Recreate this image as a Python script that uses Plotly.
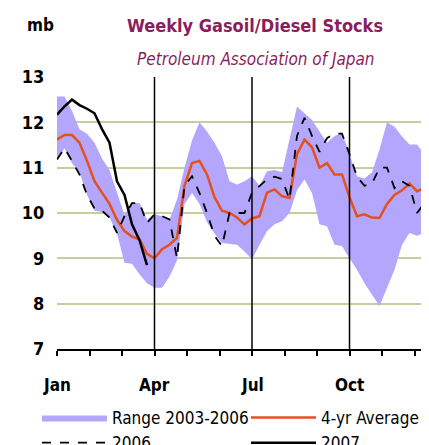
import plotly.graph_objects as go
import numpy as np

# weekly data, week index 0 = first week of January
weeks = list(range(51))
weeks_2007 = list(range(13))

range_high = [12.57, 12.57, 12.25, 11.85, 11.75, 11.55, 11.2, 10.95, 10.45, 9.95,
              10.22, 10.22, 9.85, 9.97, 9.93, 9.85, 10.3, 11.0, 11.6, 12.0,
              11.8, 11.55, 11.25, 10.7, 10.63, 10.7, 10.81, 10.6, 10.92, 10.95,
              10.9, 11.6, 12.35, 12.2, 12.05, 11.8, 11.55, 11.7, 11.77, 11.3,
              10.81, 10.76, 10.9, 11.4, 12.0, 11.9, 11.69, 11.51, 11.51, 11.3, 11.2]
range_low = [11.18, 11.43, 11.1, 10.9, 10.4, 10.05, 10.02, 9.9, 9.55, 8.9,
             8.88, 8.65, 8.45, 8.35, 8.35, 8.6, 8.95, 10.2, 10.44, 10.2,
             9.8, 9.55, 9.34, 9.32, 9.3, 9.15, 8.98, 9.3, 9.6, 9.75,
             9.82, 10.0, 10.5, 10.74, 10.44, 9.75, 9.71, 9.3, 9.27, 9.0,
             8.75, 8.45, 8.2, 7.95, 8.35, 8.75, 9.3, 9.56, 9.5, 9.56, 9.6]
avg_4yr = [11.62, 11.72, 11.72, 11.55, 11.15, 10.7, 10.45, 10.2, 9.85, 9.6,
           9.48, 9.42, 9.1, 9.0, 9.2, 9.3, 9.45, 10.6, 11.1, 11.15,
           10.85, 10.35, 10.05, 10.0, 9.9, 9.75, 9.88, 9.93, 10.45, 10.52,
           10.37, 10.33, 11.3, 11.62, 11.45, 11.0, 11.1, 10.85, 10.85, 10.35,
           9.93, 9.97, 9.9, 9.89, 10.2, 10.4, 10.5, 10.65, 10.48, 10.55, 10.4]
stocks_2006 = [11.18, 11.43, 11.15, 10.85, 10.4, 10.1, 10.05, 9.9, 9.56, 9.93,
               10.22, 10.22, 9.78, 9.97, 9.93, 9.86, 9.0, 10.6, 10.81, 10.44,
               10.0, 9.5, 9.27, 10.0, 10.0, 10.0, 10.45, 10.6, 10.74, 10.8,
               10.75, 10.3, 11.7, 12.1, 11.7, 11.35, 11.65, 11.75, 11.75, 11.3,
               10.8, 10.6, 10.65, 11.0, 11.0, 10.55, 10.7, 10.6, 10.0, 10.22, 10.0]
stocks_2007 = [12.17, 12.35, 12.5, 12.38, 12.3, 12.2, 11.85, 11.55, 10.7, 10.4,
               9.75, 9.4, 8.85]

month_labels = ['Jan', 'Apr', 'Jul', 'Oct']
y_ticks = [7, 8, 9, 10, 11, 12, 13]

WK_PER_MONTH = 52 / 12
month_pos = [i * WK_PER_MONTH for i in range(12)]
quarter_pos = [i * 3 * WK_PER_MONTH for i in range(4)]

FONT = "DejaVu Sans Condensed, Liberation Sans Narrow, Arial Narrow, Liberation Sans"
TITLE_COL = "#8c1d5c"

# page has an 8px body margin, so figure pixels = screen pixels - 8
OFF = 8
L, T, R, B = 49, 69, 8, 104
PW, PH = 429 - L - R, 445 - T - B


def px_x(sx):
    return (sx - OFF - L) / PW


def px_y(sy):
    return (445 - B - (sy - OFF)) / PH


fig = go.Figure()

# band: upper edge then lower edge filled to it
fig.add_trace(go.Scatter(x=weeks, y=range_high, mode='lines',
                         line=dict(width=0, color='#b4a6fd'),
                         showlegend=False, hoverinfo='skip'))
fig.add_trace(go.Scatter(x=weeks, y=range_low, mode='lines', fill='tonexty',
                         fillcolor='#b4a6fd', line=dict(width=0, color='#b4a6fd'),
                         name='Range 2003-2006'))
fig.add_trace(go.Scatter(x=weeks, y=avg_4yr, mode='lines',
                         line=dict(color='#e4511e', width=2.5),
                         name='4-yr Average'))
fig.add_trace(go.Scatter(x=weeks, y=stocks_2006, mode='lines',
                         line=dict(color='black', width=1.8, dash='dash'),
                         name='2006'))
fig.add_trace(go.Scatter(x=weeks_2007, y=stocks_2007, mode='lines',
                         line=dict(color='black', width=2.5),
                         name='2007'))

# vertical quarter lines
for q in quarter_pos[1:]:
    fig.add_shape(type='line', x0=q, x1=q, y0=7, y1=13, xref='x', yref='y',
                  line=dict(color='black', width=1.5), layer='above')

# month labels under the axis
for lbl, q in zip(month_labels, quarter_pos):
    fig.add_annotation(x=q, y=0, xref='x', yref='paper', text=lbl,
                       showarrow=False, xanchor='center', yanchor='middle', yshift=-36,
                       font=dict(family=FONT, size=17, color='black', weight='bold'))

fig.add_annotation(x=px_x(40), y=px_y(25), xref='paper', yref='paper', text='mb',
                   showarrow=False, xanchor='center', yanchor='middle',
                   font=dict(family=FONT, size=17, color='black', weight='bold'))
fig.add_annotation(x=px_x(255), y=px_y(25), xref='paper', yref='paper',
                   text='Weekly Gasoil/Diesel Stocks', showarrow=False,
                   xanchor='center', yanchor='middle',
                   font=dict(family=FONT, size=18, color=TITLE_COL, weight='bold'))
fig.add_annotation(x=px_x(256), y=px_y(59), xref='paper', yref='paper',
                   text='<i>Petroleum Association of Japan</i>', showarrow=False,
                   xanchor='center', yanchor='middle',
                   font=dict(family=FONT, size=17, color=TITLE_COL))

fig.update_layout(
    width=429, height=445,
    margin=dict(l=L, r=R, t=T, b=B, autoexpand=False),
    paper_bgcolor='white', plot_bgcolor='white',
    font=dict(family=FONT, color='black'),
    xaxis=dict(range=[0, 49.6], tickvals=month_pos, showticklabels=False,
               ticks='outside', ticklen=5, tickwidth=1.5, tickcolor='black',
               showgrid=False, showline=True, linecolor='black', linewidth=2,
               zeroline=False, fixedrange=True),
    yaxis=dict(range=[7, 13], tickvals=y_ticks, showgrid=True,
               gridcolor='#c6ce9c', gridwidth=2, zeroline=False,
               ticks='outside', ticklen=8, tickcolor='rgba(0,0,0,0)',
               tickfont=dict(family=FONT, size=18, color='black', weight='bold'),
               fixedrange=True),
    legend=dict(orientation='h', traceorder='normal',
                x=px_x(37), xanchor='left', y=px_y(400), yanchor='top',
                itemwidth=65, entrywidth=129,
                font=dict(family=FONT, size=17, color='black'),
                bgcolor='rgba(0,0,0,0)'),
    showlegend=True,
)

fig.write_html("out.html")
